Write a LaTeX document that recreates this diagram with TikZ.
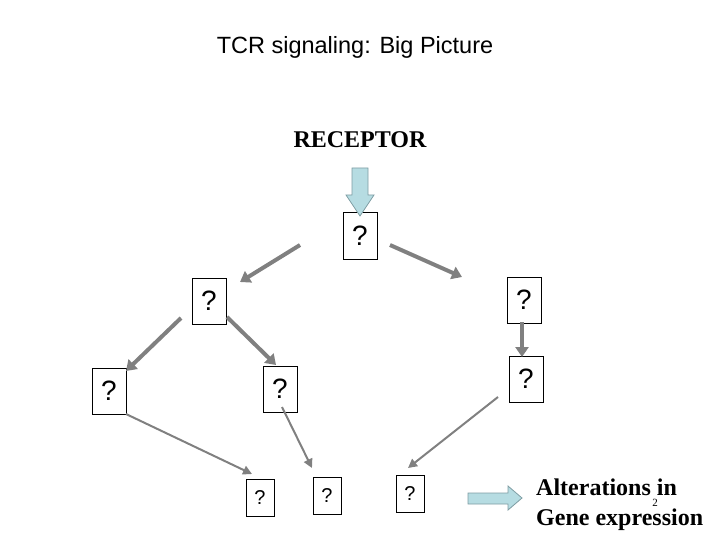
\documentclass[tikz,border=0pt]{standalone}
\usepackage{fontspec}
\setmainfont{Liberation Serif}
\setsansfont{Liberation Sans}
\usetikzlibrary{arrows.meta}
\definecolor{pale}{HTML}{B6DCE2}
\definecolor{paleedge}{HTML}{7E9DA3}
\definecolor{linkgray}{HTML}{808080}
\tikzset{
	qbox/.style={draw, line width=1pt, inner sep=0pt, minimum width=34pt, minimum height=46pt, font=\sffamily\fontsize{28}{32}\selectfont},
	qsmall/.style={qbox, minimum width=28pt, minimum height=37pt, font=\sffamily\fontsize{20}{24}\selectfont},
	heavylink/.style={draw=linkgray, line width=4pt, -{Triangle[length=10pt, width=13pt]}},
	lightlink/.style={draw=linkgray, line width=2pt, -{Triangle[length=9pt, width=9pt]}},
	fatarrow/.style={fill=pale, draw=paleedge, line width=0.8pt}
}
\begin{document}
\begin{tikzpicture}[x=1pt, y=-1pt]
	\useasboundingbox (0,0) rectangle (720,540);
	% titles
	\node[font=\sffamily\fontsize{23.5}{28}\selectfont] (title) at (355,47) {TCR signaling: Big Picture};
	\node[font=\bfseries\fontsize{24}{28}\selectfont] (receptor) at (360,140) {RECEPTOR};
	% big question boxes
	\foreach \n/\x/\y in {top/360/236, midl/209/301, midr/524/300, lowl/109/391, lowm/280/389, lowr/526/379} {
		\node[qbox] (\n) at (\x,\y) {?};
	}
	% small question boxes at the bottom
	\foreach \n/\x/\y in {endl/260/498, endm/327/496, endr/410/494} {
		\node[qsmall] (\n) at (\x,\y) {?};
	}
	% free ends of the links
	\coordinate (topL) at (300,245);  \coordinate (topLtip) at (240,282);
	\coordinate (topR) at (390,245);  \coordinate (topRtip) at (462,277);
	\coordinate (midlL) at (181,318); \coordinate (midlLtip) at (126,371);
	\coordinate (midlR) at (227,317); \coordinate (midlRtip) at (276,365);
	\coordinate (midrD) at (522,322); \coordinate (midrDtip) at (522,357);
	\coordinate (lowlE) at (126,414); \coordinate (lowlEtip) at (252,474);
	\coordinate (lowmE) at (282,407); \coordinate (lowmEtip) at (312,468);
	\coordinate (lowrE) at (498,397); \coordinate (lowrEtip) at (408,468);
	% thick links
	\draw[heavylink] (topL) -- (topLtip);
	\draw[heavylink] (topR) -- (topRtip);
	\draw[heavylink] (midlL) -- (midlLtip);
	\draw[heavylink] (midlR) -- (midlRtip);
	\draw[heavylink] (midrD) -- (midrDtip);
	% thin links
	\draw[lightlink] (lowlE) -- (lowlEtip);
	\draw[lightlink] (lowmE) -- (lowmEtip);
	\draw[lightlink] (lowrE) -- (lowrEtip);
	% receptor arrow into the top box
	\draw[fatarrow] (352,168) -- (368,168) -- (368,195) -- (374,195) -- (360,216) -- (346,195) -- (352,195) -- cycle;
	% output arrow
	\draw[fatarrow] (468,493) -- (508,493) -- (508,486) -- (522,498) -- (508,510) -- (508,504) -- (468,504) -- cycle;
	\node[anchor=west, align=left, inner sep=0pt, font=\bfseries\fontsize{24}{30}\selectfont] (result) at (536,505) {Alterations in\\Gene expression};
	\node[font=\fontsize{11}{13}\selectfont, inner sep=0pt] (pageno) at (655,503) {2};
\end{tikzpicture}
\end{document}
